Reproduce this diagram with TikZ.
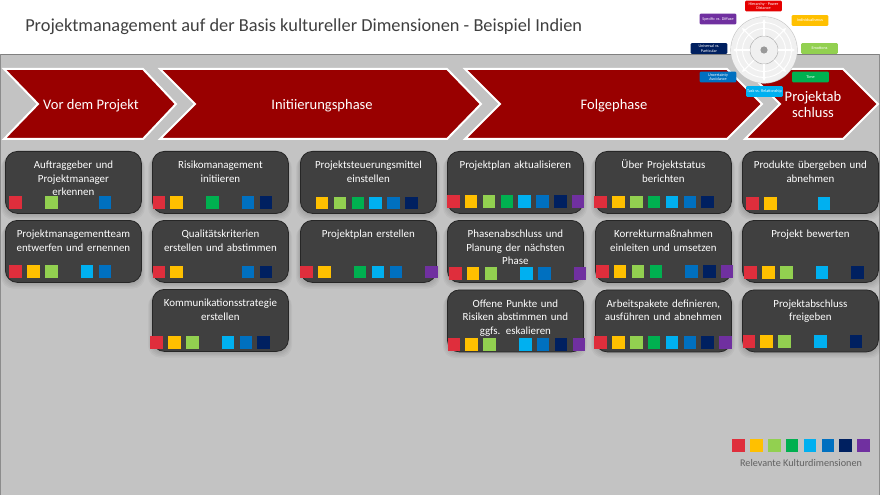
\documentclass[tikz,border=0pt]{standalone}
\usepackage{fontspec}
\setmainfont{Carlito}
\usetikzlibrary{arrows.meta}
\definecolor{c1}{HTML}{DF2E3C}
\definecolor{c2}{HTML}{FFC000}
\definecolor{c3}{HTML}{92D050}
\definecolor{c4}{HTML}{00B050}
\definecolor{c5}{HTML}{00B0F0}
\definecolor{c6}{HTML}{0070C0}
\definecolor{c7}{HTML}{002060}
\definecolor{c8}{HTML}{7030A0}
\definecolor{chev}{HTML}{990000}
\definecolor{cardfill}{HTML}{404040}
\definecolor{bg}{HTML}{C3C3C3}
\definecolor{titlecol}{HTML}{404040}
\tikzset{
  chevron/.style={fill=chev,draw=white,line width=1.5pt,line join=miter},
  chevtext/.style={text=white,font=\fontsize{10.9pt}{12pt}\selectfont,inner sep=0,align=center},
  card/.style={fill=cardfill,draw=black!85,line width=.6pt,rounded corners=9pt,minimum width=102pt,inner sep=0,anchor=north west},
  cardtext/.style={text=white,font=\fontsize{8.2pt}{10pt}\selectfont,align=center,text width=100pt,inner sep=0,anchor=north},
  sq/.style={minimum size=9.4pt,inner sep=0,anchor=north west},
  minibox/.style={minimum width=27.5pt,minimum height=8pt,inner sep=0,rounded corners=.8pt,text=white,align=center,font=\fontsize{3.1pt}{3.6pt}\selectfont},
}
% name, x, y, h, text, x0, y0, slots
\newcommand{\taskcard}[8]{%
  \foreach \i in {1,...,5}{\fill[black,opacity=.035,rounded corners=9pt] ({#2-\i+1},{#3+\i}) rectangle ({#2+136+\i-1},{#3+#4+1.3*\i});}
  \node[card,minimum height=#4*.75pt] (#1) at (#2,#3) {};
  \node[cardtext] (#1t) at ([yshift=-5.2pt]#1.north) {\rule{0pt}{8pt}#5};
  \foreach \s in {#8}{\node[sq,fill=c\s] (#1s\s) at ({#6+(\s-1)*17.85},#7) {};}
}
\begin{document}
\begin{tikzpicture}[x=.75pt,y=-.75pt]
\useasboundingbox (0,0) rectangle (880,495);
\fill[bg] (0,0) rectangle (880,495);
\fill[white] (0,0) rectangle (880,54);
\draw[black!50,line width=.9pt] (0,54.5) -- (880,54.5);
\draw[black!45,line width=.8pt] (.5,54.5) -- (.5,495);
\draw[black!45,line width=.8pt] (879.5,54.5) -- (879.5,495);
\node[anchor=west,inner sep=0,text=titlecol,font=\fontsize{13.75pt}{16pt}\selectfont] (title) at (25,27) {Projektmanagement auf der Basis kultureller Dimensionen - Beispiel Indien};
% chevrons
\draw[chevron] (4,69) -- (143,69) -- (176,104) -- (143,139) -- (4,139) -- (38,104) -- cycle;
\draw[chevron] (160,69) -- (447,69) -- (481,104) -- (447,139) -- (160,139) -- (195,104) -- cycle;
\draw[chevron] (465,69) -- (727,69) -- (762,104) -- (727,139) -- (465,139) -- (500,104) -- cycle;
\draw[chevron] (745,69) -- (843,69) -- (878,104) -- (843,139) -- (745,139) -- (780,104) -- cycle;
\node[chevtext] (p1) at (91,105.5) {Vor dem Projekt};
\node[chevtext] (p2) at (322,105.5) {Initiierungsphase};
\node[chevtext] (p3) at (614,105.5) {Folgephase};
\node[chevtext] (p4) at (813,105) {Projektab\\schluss};
% cards
\taskcard{a}{5}{151}{62}{Auftraggeber und\\Projektmanager\\erkennen}{9}{196}{1,3,6}
\taskcard{b}{5}{220}{62}{Projektmanagementteam\\entwerfen und ernennen}{9}{265}{1,2,3,5,6}
\taskcard{c}{152}{151}{62}{Risikomanagement\\initiieren}{152.3}{196}{1,2,4,6,7}
\taskcard{d}{152}{220}{62}{Qualitätskriterien\\erstellen und abstimmen}{152.3}{265.5}{1,2,6,7}
\taskcard{e}{152}{289}{62}{Kommunikationsstrategie\\erstellen}{150}{336}{1,2,3,5,6,7}
\taskcard{f}{300}{151}{62}{Projektsteuerungsmittel\\einstellen}{297.8}{196.5}{2,3,4,5,6,7}
\taskcard{g}{300}{220}{62}{Projektplan erstellen}{300}{265.5}{1,2,4,5,6,8}
\taskcard{h}{447}{151}{62}{Projektplan aktualisieren}{446.7}{195}{1,2,3,4,5,6,7,8}
\taskcard{i}{447}{220}{62}{Phasenabschluss und\\Planung der nächsten\\Phase}{448.7}{266.7}{1,2,3,5,6,8}
\taskcard{j}{447}{289.5}{62}{Offene Punkte und\\Risiken abstimmen und\\ggfs. eskalieren}{447.3}{337.7}{1,2,3,5,6,7,8}
\taskcard{k}{595}{151}{62}{Über Projektstatus\\berichten}{594}{195.7}{1,2,3,4,5,6,7}
\taskcard{l}{595}{220}{62}{Korrekturmaßnahmen\\einleiten und umsetzen}{595.7}{265}{1,2,3,4,6,7,8}
\taskcard{m}{595}{289.5}{62}{Arbeitspakete definieren,\\ausführen und abnehmen}{594}{336}{1,2,3,4,5,6,7,8}
\taskcard{n}{742}{151}{62}{Produkte übergeben und\\abnehmen}{746}{196.7}{1,2,5}
\taskcard{o}{742}{220}{62}{Projekt bewerten}{744}{265.7}{1,2,3,5,7}
\taskcard{q}{742}{289.5}{62}{Projektabschluss\\freigeben}{742.3}{335}{1,2,3,5,7}
% legend
\foreach \s in {1,...,8}{\node[sq,fill=c\s] (leg\s) at ({732+(\s-1)*17.85},439) {};}
\node[inner sep=0,text=black!62,font=\fontsize{7.65pt}{10pt}\selectfont] (legtext) at (801,463) {Relevante Kulturdimensionen};
% wheel
\fill[black!22] (764,50) circle (33.6);
\fill[black!6] (764,50) circle (33);
\draw[white,line width=.7pt] (764,50) circle (27.5);
\draw[white,line width=.7pt] (764,50) circle (21.5);
\draw[black!30,line width=.4pt] (764,50) circle (14);
\foreach \a in {0,45,...,315}{
  \draw[white,line width=.8pt,-{Stealth[length=3pt,width=3pt]}] ([shift={(\a:14)}]764,50) -- ([shift={(\a:31)}]764,50);
}
\fill[black!40] (764,50) circle (3.6);
% small labels
\node[minibox,fill=red!90!black] (w1) at (763.5,6) {Hierarchy - Power\\Distance};
\node[minibox,fill=c2] (w2) at (810,20.5) {Individualismus};
\node[minibox,fill=c3] (w3) at (819.5,48.5) {Emotions};
\node[minibox,fill=c4] (w4) at (810.5,77) {Time};
\node[minibox,fill=c5] (w5) at (764.5,91.5) {Task vs. Relationship};
\node[minibox,fill=c6] (w6) at (718,77) {Uncertainty\\Avoidance};
\node[minibox,fill=c7] (w7) at (709,48.5) {Universal vs.\\Particular};
\node[minibox,fill=c8] (w8) at (718,19) {Specific vs. Diffuse};
\end{tikzpicture}
\end{document}
